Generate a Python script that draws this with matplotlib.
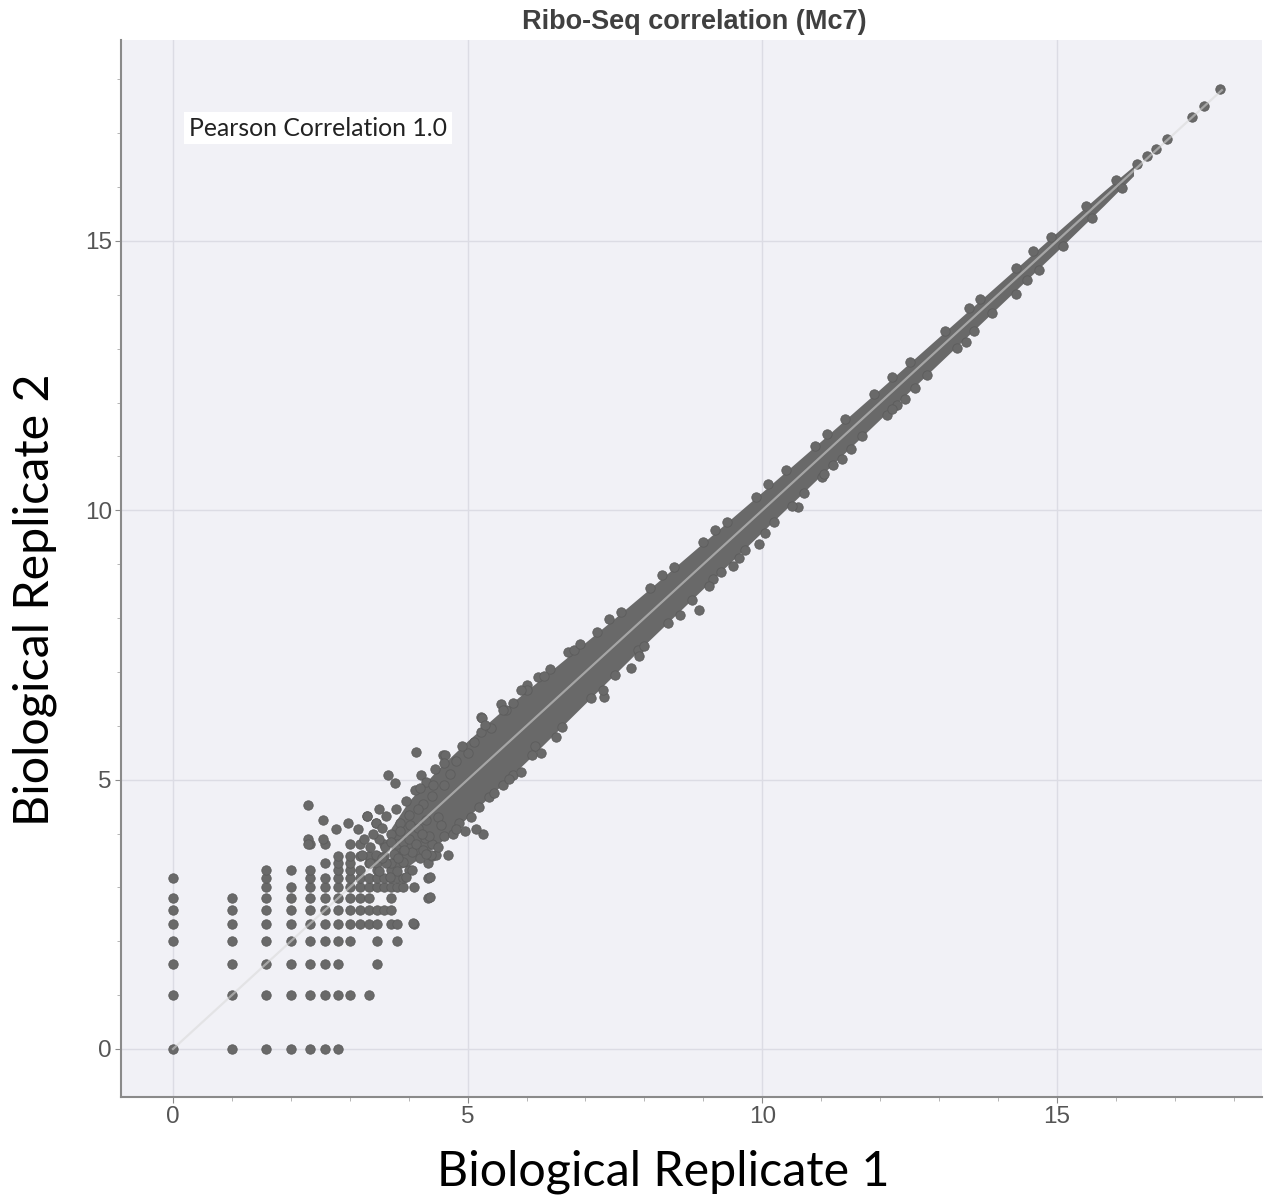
import numpy as np
import matplotlib.pyplot as plt
from matplotlib.ticker import MultipleLocator

# low read counts (raw counts, shown as log2): for each rep2 count, the rep1 counts seen
grid_rep2 = [1, 2, 3, 4, 5, 6, 7, 8, 9, 10, 11, 12, 14]
grid_rep1 = [
    [1, 2, 3, 4, 5, 6, 7],
    [1, 2, 3, 4, 5, 6, 7, 8, 10],
    [1, 2, 3, 4, 5, 6, 7, 11],
    [1, 2, 3, 4, 5, 6, 7, 8, 11, 14],
    [1, 2, 3, 4, 5, 6, 7, 8, 9, 10, 11, 13, 14, 17],
    [1, 2, 3, 4, 5, 6, 7, 8, 9, 10, 11, 12, 13],
    [1, 2, 3, 4, 5, 6, 7, 8, 9, 10, 13, 20],
    [3, 4, 5, 6, 7, 8, 9, 10, 11, 12, 13, 14, 15, 17],
    [1, 3, 5, 6, 7, 8, 9, 10, 11, 12, 13, 14, 15, 20],
    [3, 4, 5, 7, 8, 9, 11, 13, 16],
    [6, 7, 8, 10, 11, 13, 20],
    [7, 8, 9, 10, 11, 12, 14, 21],
    [5, 6, 8, 9, 12, 14, 16, 21],
]

# dense core of the replicate cloud (log2 values): lower / upper edge along rep1
band_x = [3.7, 4.0, 4.5, 5.0, 5.5, 6.0, 6.5, 7.0, 7.5, 8.0, 9.0, 10.0, 11.0, 12.0, 13.0, 14.0, 15.0, 15.8, 16.3]
band_lo = [3.30, 3.40, 3.80, 4.30, 4.82, 5.34, 5.88, 6.42, 6.96, 7.50, 8.55, 9.60, 10.65, 11.69, 12.73, 13.77, 14.81, 15.66, 16.21]
band_hi = [4.10, 4.60, 5.20, 5.72, 6.20, 6.65, 7.10, 7.55, 8.00, 8.46, 9.40, 10.34, 11.29, 12.25, 13.22, 14.19, 15.16, 15.93, 16.39]

# individual genes (log2 rep1, log2 rep2): outliers, the loose cloud near 3-6 and the rough core edges
pts_x = [2.29, 2.55, 2.29, 2.29, 2.55, 2.77, 2.97, 3.14, 3.29, 3.45, 3.65, 3.76, 4.13, 4.21, 4.58,
         4.36, 4.36, 4.07, 4.67, 4.47, 5.26, 5.15, 5.37, 4.28, 5.23, 5.23, 5.57, 5.77, 6.19, 6.70,
         7.32, 7.77, 7.89, 6.15, 5.77, 4.61, 5.25, 8.93, 9.50, 9.94, 10.60, 11.02, 9.16, 12.12,
         12.42, 13.45, 11.05, 11.36, 12.29, 14.30, 16.36, 16.53, 16.69, 16.87, 17.29, 17.49, 17.76,
         3.30, 3.45, 3.55, 3.62, 3.70, 3.78, 3.85, 3.90, 3.95, 4.00, 4.05, 4.10, 4.15, 4.20, 4.25,
         4.30, 4.35, 4.40, 4.45, 4.50, 3.45, 3.60, 3.62, 3.75, 3.80, 3.90, 3.95, 4.05, 3.35, 3.50,
         3.35, 3.50, 3.55, 3.68, 3.70, 3.82, 3.85, 3.92, 4.00, 4.02, 4.12, 4.15, 4.22, 4.25, 4.30,
         4.38, 4.42, 4.50, 4.55, 4.60, 4.60, 4.70, 4.75, 4.80, 4.85, 4.95, 5.00, 5.05, 5.10, 5.40,
         5.45, 5.60, 5.65, 5.90, 6.00, 6.25, 6.40, 6.50, 3.20, 3.25, 3.40, 3.50,
         4.2, 4.6, 4.9, 5.3, 5.6, 6.0, 6.3, 6.8, 7.2, 7.6, 8.1, 8.5, 9.0, 9.4, 9.9, 10.4, 10.9,
         11.4, 11.9, 12.5, 13.1, 13.7, 14.3, 14.9, 15.5, 16.0,
         4.3, 4.8, 5.2, 5.7, 6.1, 6.6, 7.1, 7.5, 8.0, 8.4, 8.8, 9.3, 9.7, 10.2, 10.7, 11.2, 11.7,
         12.2, 12.8, 13.3, 13.9, 14.5, 15.1, 15.6, 16.1,
         7.3, 7.9, 8.6, 9.1, 9.6, 10.05, 10.5, 11.5, 12.6, 13.6, 14.7,
         5.9, 6.9, 7.4, 8.3, 9.2, 10.1, 11.1, 12.2, 13.5, 14.6]
pts_y = [4.53, 4.25, 3.89, 3.80, 3.89, 4.08, 4.19, 4.08, 4.32, 4.20, 5.08, 4.93, 5.52, 5.08, 5.45,
         2.83, 3.20, 2.33, 3.60, 3.60, 4.00, 4.09, 4.68, 3.91, 6.17, 5.89, 6.40, 6.43, 6.91, 7.37,
         6.53, 7.08, 7.40, 5.63, 5.08, 5.45, 6.15, 8.14, 8.96, 9.38, 10.07, 10.62, 8.73, 11.76,
         12.07, 13.12, 10.68, 10.96, 11.95, 14.02, 16.42, 16.57, 16.71, 16.90, 17.30, 17.51, 17.82,
         4.32, 4.20, 4.10, 4.32, 4.00, 4.45, 4.20, 3.85, 4.60, 4.35, 3.65, 4.80, 4.10, 3.55, 4.55,
         4.95, 3.95, 4.70, 5.20, 4.30, 3.60, 3.75, 3.45, 3.62, 3.30, 3.47, 3.20, 3.32, 3.75, 3.90,
         3.45, 3.30, 3.55, 3.20, 3.85, 3.55, 4.05, 3.70, 3.90, 4.15, 3.80, 4.45, 4.00, 3.70, 4.25,
         3.60, 4.90, 3.75, 4.15, 3.95, 4.90, 5.10, 4.00, 5.35, 4.20, 4.05, 5.50, 4.30, 5.70, 5.95,
         4.75, 4.90, 6.30, 5.15, 6.75, 5.50, 7.05, 5.80, 3.60, 3.90, 4.00, 4.45,
         4.85, 5.30, 5.62, 6.02, 6.30, 6.67, 6.93, 7.40, 7.74, 8.12, 8.56, 8.95, 9.41, 9.79, 10.24,
         10.74, 11.19, 11.70, 12.16, 12.76, 13.33, 13.93, 14.50, 15.08, 15.65, 16.13,
         3.62, 4.08, 4.50, 5.02, 5.45, 5.97, 6.52, 6.95, 7.49, 7.90, 8.33, 8.85, 9.27, 9.78, 10.32,
         10.84, 11.37, 11.88, 12.51, 13.02, 13.67, 14.27, 14.91, 15.43, 15.98,
         6.66, 7.30, 8.05, 8.60, 9.12, 9.58, 10.08, 11.13, 12.27, 13.33, 14.46,
         6.66, 7.52, 7.98, 8.80, 9.63, 10.48, 11.42, 12.48, 13.75, 14.82]

diag = [0, 17.8]

pt_color = "#696969"

gx, gy = [], []
for r2, row in zip(grid_rep2, grid_rep1):
    for r1 in row:
        gx.append(r1)
        gy.append(r2)

fig = plt.figure(figsize=(12.71, 12.01), dpi=100)
ax = fig.add_axes([0.0952, 0.0866, 0.8977, 0.8801])
ax.set_facecolor("#f1f1f6")

ax.fill_between(band_x, band_lo, band_hi, color=pt_color, lw=0, zorder=2)
ax.scatter(np.log2(gx), np.log2(gy), s=46, color=pt_color, edgecolor="#5c5c5c", lw=0.6, zorder=3)
ax.scatter(pts_x, pts_y, s=46, color=pt_color, edgecolor="#5c5c5c", lw=0.6, zorder=3)
ax.plot(diag, diag, color="#d8d8d8", alpha=0.55, lw=1.6, zorder=4)

ax.set_xlim(-0.882, 18.48)
ax.set_ylim(-0.891, 18.73)
ax.xaxis.set_major_locator(MultipleLocator(5))
ax.yaxis.set_major_locator(MultipleLocator(5))
ax.xaxis.set_minor_locator(MultipleLocator(1))
ax.yaxis.set_minor_locator(MultipleLocator(1))
ax.grid(True, which="major", color="#dcdce4", lw=1.0, zorder=0)
ax.set_axisbelow(True)

for s in ["top", "right"]:
    ax.spines[s].set_visible(False)
for s in ["left", "bottom"]:
    ax.spines[s].set_color("#8a8a8a")
    ax.spines[s].set_linewidth(1.5)

ax.tick_params(which="major", length=4, color="#8a8a8a", labelsize=17.5, labelcolor="#555555", pad=2.5)
ax.tick_params(which="minor", length=3, color="#aaaaaa")
for lab in ax.get_xticklabels() + ax.get_yticklabels():
    lab.set_family("Liberation Sans")

fig.text(0.546, 0.9817, "Ribo-Seq correlation (Mc7)", ha="center", va="center",
         fontsize=19.5, fontweight="bold", color="#404040", family="Liberation Sans")
fig.text(0.5216, 0.024, "Biological Replicate 1", ha="center", va="center",
         fontsize=34.8, color="black", family="Lato")
fig.text(0.0275, 0.5004, "Biological Replicate 2", ha="center", va="center", rotation=90,
         fontsize=34.8, color="black", family="Lato")
fig.text(0.1487, 0.8934, "Pearson Correlation 1.0", ha="left", va="center",
         fontsize=17.8, color="#222222", family="Lato",
         bbox=dict(facecolor="white", edgecolor="none", pad=3.5))

fig.savefig("out.png", dpi=100)
